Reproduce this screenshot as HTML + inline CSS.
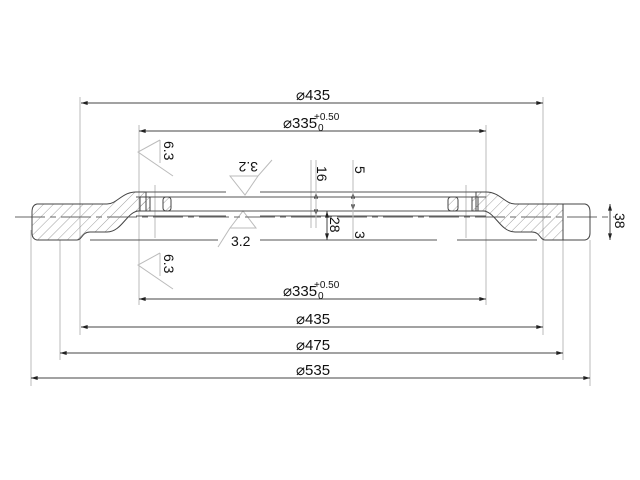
<!DOCTYPE html>
<html><head><meta charset="utf-8"><style>
html,body{margin:0;padding:0;background:#fff;}
svg{display:block;}
text{font-family:"Liberation Sans",sans-serif;fill:#111;}
</style></head><body>
<svg width="640" height="480" viewBox="0 0 640 480" xmlns="http://www.w3.org/2000/svg">
<defs>
<pattern id="h" patternUnits="userSpaceOnUse" width="7" height="7" patternTransform="rotate(45)">
<line x1="0" y1="0" x2="0" y2="7" stroke="#777" stroke-width="0.7"/>
</pattern>
<marker id="a" viewBox="0 0 10 6" refX="10" refY="3" markerWidth="8" markerHeight="4" orient="auto-start-reverse">
<path d="M0,0 L10,3 L0,6 z" fill="#222"/>
</marker>
</defs>
<g stroke="#bbb" stroke-width="1" fill="none">
<!-- extension lines -->
<line x1="31" y1="230" x2="31" y2="386"/>
<line x1="60" y1="240" x2="60" y2="360"/>
<line x1="80" y1="97" x2="80" y2="335"/>
<line x1="139" y1="125" x2="139" y2="305"/>
<line x1="486" y1="125" x2="486" y2="305"/>
<line x1="543" y1="97" x2="543" y2="335"/>
<line x1="563" y1="240" x2="563" y2="360"/>
<line x1="590" y1="240" x2="590" y2="386"/>
<line x1="311" y1="160" x2="311" y2="228"/>
<line x1="155" y1="185" x2="155" y2="238"/>
<line x1="466" y1="185" x2="466" y2="238"/>
<!-- roughness symbols -->
<polyline points="160,140 138,152 173,176"/>
<line x1="160" y1="140" x2="160" y2="163"/>
<polyline points="160,253 138,265 173,289"/>
<line x1="160" y1="253" x2="160" y2="276"/>
<polyline points="272,160 258,176 230,176 245,195 258,176"/>
<polyline points="218,247 230,228 256,228 243,211 230,228"/>
</g>
<!-- centerline -->
<line x1="15" y1="217" x2="615" y2="217" stroke="#666" stroke-width="1" stroke-dasharray="30,5,6,5"/>
<!-- plate lines -->
<g stroke="#555" stroke-width="1" fill="none">
<line x1="136" y1="192" x2="226" y2="192"/><line x1="260" y1="192" x2="486" y2="192"/>
<line x1="136" y1="197" x2="486" y2="197"/>
<line x1="136" y1="211" x2="486" y2="211"/>
<line x1="136" y1="216" x2="226" y2="216"/><line x1="260" y1="216" x2="486" y2="216"/>
<line x1="90" y1="240" x2="218" y2="240"/><line x1="260" y1="240" x2="437" y2="240"/><line x1="457" y1="240" x2="537" y2="240"/>
</g>
<!-- right section -->
<path d="M476,197 L476,192 L486,192 C500,192 505,204 515,204 L563,204 L563,240 L545,240 C540,240 540,232 532,232 L515,232 C500,232 495,211 483,211 L476,211 Z" fill="url(#h)" stroke="#444" stroke-width="1"/>
<path d="M563,204 L585,204 Q590,205 590,212 L590,233 Q590,239 585,240 L563,240" fill="none" stroke="#444" stroke-width="1"/>
<!-- left section -->
<path d="M146,197 L146,192 L136,192 C122,192 117,204 107,204 L37,204 Q32,205 32,212 L32,233 Q32,239 37,240 L77,240 C82,240 82,232 90,232 L107,232 C122,232 127,211 139,211 L146,211 Z" fill="url(#h)" stroke="#444" stroke-width="1"/>
<!-- small blocks -->
<g fill="url(#h)" stroke="#444" stroke-width="1">
<rect x="140" y="197" width="10" height="14"/><rect x="163" y="197" width="8" height="14" rx="3"/>
<rect x="448" y="197" width="10" height="14" rx="3"/><rect x="472" y="197" width="6" height="14"/>
</g>
<!-- dimension lines -->
<g stroke="#444" stroke-width="1" fill="none" marker-start="url(#a)" marker-end="url(#a)">
<line x1="81" y1="103" x2="543" y2="103"/>
<line x1="139" y1="131" x2="486" y2="131"/>
<line x1="139" y1="299" x2="486" y2="299"/>
<line x1="81" y1="327" x2="543" y2="327"/>
<line x1="60" y1="353" x2="563" y2="353"/>
<line x1="31" y1="378" x2="590" y2="378"/>
<line x1="610" y1="204" x2="610" y2="240"/>
<line x1="316" y1="192" x2="316" y2="216"/>
<line x1="327" y1="211" x2="327" y2="240"/>
<line x1="353" y1="192" x2="353" y2="211"/>
</g>
<line x1="353" y1="160" x2="353" y2="240" stroke="#bbb"/>
<line x1="316" y1="160" x2="316" y2="228" stroke="#bbb"/>
<!-- texts -->
<g font-size="15">
<text x="296" y="100">⌀435</text>
<text x="283" y="128">⌀335</text>
<text x="283" y="296">⌀335</text>
<text x="296" y="324">⌀435</text>
<text x="296" y="350">⌀475</text>
<text x="296" y="375">⌀535</text>
</g>
<g font-size="10">
<text x="314" y="120">+0.50</text><text x="318" y="131">0</text>
<text x="314" y="288">+0.50</text><text x="318" y="299">0</text>
</g>
<g font-size="14">
<text transform="translate(164,141) rotate(90)">6.3</text>
<text transform="translate(164,254) rotate(90)">6.3</text>
<text transform="translate(258,162) rotate(180)">3.2</text>
<text x="231" y="246">3.2</text>
<text transform="translate(615,213) rotate(90)">38</text>
<text transform="translate(317,166) rotate(90)">16</text>
<text transform="translate(355,166) rotate(90)">5</text>
<text transform="translate(330,217) rotate(90)">28</text>
<text transform="translate(355,231) rotate(90)">3</text>
</g>
</svg>
</body></html>
